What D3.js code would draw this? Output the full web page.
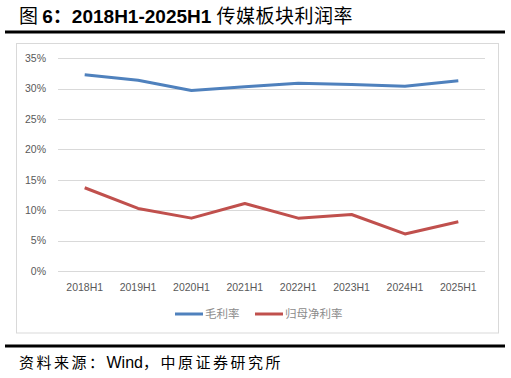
<!DOCTYPE html>
<html>
<head>
<meta charset="utf-8">
<script src="https://cdn.jsdelivr.net/npm/d3@7"></script>
<style>
  body { margin: 0; background: #fff; }
  svg { display: block; }
</style>
</head>
<body>
<div id="chart"></div>
<script>
// data
const categories = ['2018H1', '2019H1', '2020H1', '2021H1', '2022H1', '2023H1', '2024H1', '2025H1'];
const grossMargin = [32.3, 31.4, 29.7, 30.3, 30.9, 30.7, 30.4, 31.3];
const netMargin = [13.7, 10.3, 8.7, 11.1, 8.7, 9.3, 6.1, 8.1];
const yTicks = [0, 5, 10, 15, 20, 25, 30, 35];
const seriesNames = ['毛利率', '归母净利率'];
const seriesColors = ['#4F81BD', '#C0504D'];

const width = 511, height = 378;
const cn = '"Noto Sans CJK SC", sans-serif';
const lat = '"Liberation Sans", Arial, sans-serif';

const svg = d3.select('#chart').append('svg')
    .attr('width', width)
    .attr('height', height);

// title
const title = svg.append('text')
    .attr('x', 19)
    .attr('y', 23)
    .attr('fill', '#000')
    .style('font-size', '19px');
title.append('tspan').style('font-family', cn).text('图 ');
title.append('tspan').style('font-family', lat).style('font-weight', 'bold').text('6');
title.append('tspan').style('font-family', cn).style('font-weight', 'bold').text('：');
title.append('tspan').style('font-family', lat).style('font-weight', 'bold').text('2018H1-2025H1 ');
title.append('tspan').style('font-family', cn).style('letter-spacing', '0.5px').text('传媒板块利润率');

// thick rules
svg.append('rect').attr('x', 5).attr('y', 30.5).attr('width', 500).attr('height', 3).attr('fill', '#000');
svg.append('rect').attr('x', 5).attr('y', 344.5).attr('width', 500).attr('height', 3).attr('fill', '#000');

// chart frame
svg.append('rect')
    .attr('x', 16.5).attr('y', 43.5)
    .attr('width', 482).attr('height', 289.5)
    .attr('fill', '#fff')
    .attr('stroke', '#d9d9d9');

// scales
const x = d3.scaleBand().domain(categories).range([58, 485]);
const y = d3.scaleLinear().domain([0, 35]).range([271, 58.3]);

// gridlines
svg.append('g')
    .selectAll('line')
    .data(yTicks)
    .enter()
    .append('line')
    .attr('x1', 58).attr('x2', 485)
    .attr('y1', d => Math.round(y(d)) + 0.5)
    .attr('y2', d => Math.round(y(d)) + 0.5)
    .attr('stroke', '#d9d9d9')
    .attr('stroke-width', 1);

// y labels
svg.append('g')
    .selectAll('text')
    .data(yTicks)
    .enter()
    .append('text')
    .attr('x', 46)
    .attr('y', d => y(d))
    .attr('dy', '0.35em')
    .attr('text-anchor', 'end')
    .attr('fill', '#595959')
    .style('font-family', lat)
    .style('font-size', '10.5px')
    .text(d => d + '%');

// x labels
svg.append('g')
    .selectAll('text')
    .data(categories)
    .enter()
    .append('text')
    .attr('x', d => x(d) + x.bandwidth() / 2)
    .attr('y', 291)
    .attr('text-anchor', 'middle')
    .attr('fill', '#595959')
    .style('font-family', lat)
    .style('font-size', '10.5px')
    .text(d => d);

// lines
const line = d3.line()
    .x((d, i) => x(categories[i]) + x.bandwidth() / 2)
    .y(d => y(d));

[grossMargin, netMargin].forEach((s, i) => {
    svg.append('path')
        .datum(s)
        .attr('d', line)
        .attr('fill', 'none')
        .attr('stroke', seriesColors[i])
        .attr('stroke-width', 3)
        .attr('stroke-linejoin', 'round');
});

// legend
const legendX = [175, 255];
seriesNames.forEach((name, i) => {
    svg.append('line')
        .attr('x1', legendX[i]).attr('x2', legendX[i] + 28)
        .attr('y1', 314).attr('y2', 314)
        .attr('stroke', seriesColors[i])
        .attr('stroke-width', 3);
    svg.append('text')
        .attr('x', legendX[i] + 30)
        .attr('y', 314)
        .attr('dy', '0.35em')
        .attr('fill', '#8c8c8c')
        .style('font-family', cn)
        .style('font-size', '11.5px')
        .text(name);
});

// source
const src = svg.append('text')
    .attr('x', 19)
    .attr('y', 368)
    .attr('fill', '#000')
    .style('font-size', '15px');
src.append('tspan').style('font-family', cn).style('letter-spacing', '2.5px').text('资料来源：');
src.append('tspan').style('font-family', lat).style('font-size', '16px').text('Wind');
src.append('tspan').style('font-family', cn).style('letter-spacing', '2.5px').text('，中原证券研究所');
</script>
</body>
</html>
